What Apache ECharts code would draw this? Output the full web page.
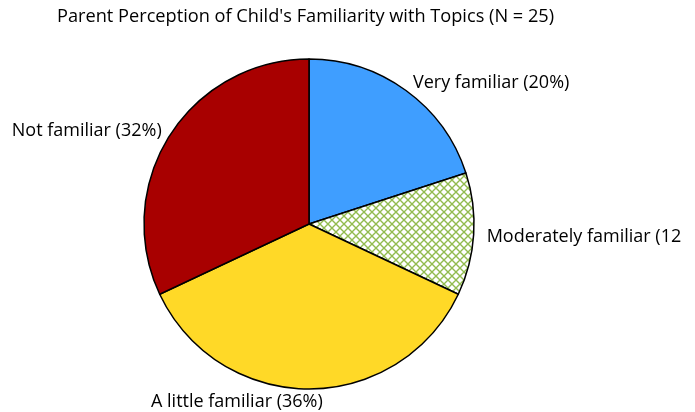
<!DOCTYPE html>
<html><head><meta charset="utf-8">
<script src="https://cdn.jsdelivr.net/npm/echarts@6/dist/echarts.min.js"></script>
<style>html,body{margin:0;padding:0;background:#fff}#c{width:695px;height:412px}</style>
</head><body><div id="c"></div>
<script>
const titleText = "Parent Perception of Child's Familiarity with Topics (N = 25)";
const categories = ["Very familiar", "Moderately familiar", "A little familiar", "Not familiar"];
const percents = [20, 12, 36, 32];
const colors = ["#3F9EFF", "hatch", "#FFD927", "#A80000"];

function hatch() {
  const c = document.createElement('canvas');
  c.width = 8; c.height = 8;
  const g = c.getContext('2d');
  g.fillStyle = '#fff'; g.fillRect(0, 0, 8, 8);
  g.strokeStyle = '#92BB4F'; g.lineWidth = 1.4;
  g.beginPath();
  g.moveTo(-1, -1); g.lineTo(9, 9);
  g.moveTo(-1, 9); g.lineTo(9, -1);
  g.stroke();
  return { image: c, repeat: 'repeat' };
}

const offsets = [
  { dx: 7, dy: -8, align: 'left' },
  { dx: 13, dy: 3, align: 'left' },
  { dx: -158, dy: 13, align: 'left' },
  { dx: -8, dy: -5, align: 'right' }
];

const data = categories.map((n, i) => ({
  name: n,
  value: percents[i],
  itemStyle: { color: colors[i] === 'hatch' ? hatch() : colors[i] },
  label: i === 1 ? { width: 206, overflow: 'truncate', ellipsis: '' } : {}
}));

const chart = echarts.init(document.getElementById('c'));
chart.setOption({
  animation: false,
  title: {
    text: titleText, left: 52, top: 3,
    textStyle: { fontFamily: 'Open Sans', fontSize: 18.2, fontWeight: 'normal', color: '#000' }
  },
  series: [{
    type: 'pie',
    center: [309, 224],
    radius: [0, 165],
    startAngle: 90,
    clockwise: true,
    data: data,
    itemStyle: { borderColor: '#000', borderWidth: 1.5 },
    emphasis: { disabled: true },
    label: {
      show: true,
      position: 'outside',
      formatter: p => p.name + ' (' + p.value + '%)',
      fontFamily: 'Open Sans', fontSize: 18, color: '#000'
    },
    labelLine: { show: false, length: 5, length2: 0 },
    labelLayout: function (params) {
      const p = params.labelLinePoints;
      const o = offsets[params.dataIndex];
      if (!p) return {};
      return { x: p[0][0] + o.dx, y: p[0][1] + o.dy, align: o.align, verticalAlign: 'middle' };
    }
  }]
});
</script></body></html>
